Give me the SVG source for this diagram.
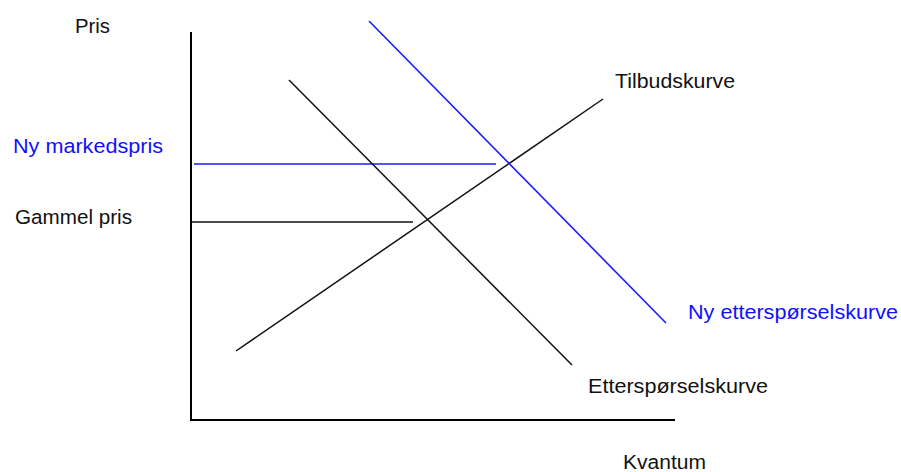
<svg xmlns="http://www.w3.org/2000/svg" width="901" height="472" viewBox="0 0 901 472">
<style>
text{font-family:"Liberation Sans",Arial,sans-serif;font-size:20.5px;fill:#111}
.blue{fill:#1010ff}
.ax{stroke:#000;stroke-width:2;fill:none}
.k{stroke:#111;stroke-width:1.5;fill:none}
.b{stroke:#1a1aff;stroke-width:1.6;fill:none}
</style>
<rect width="901" height="472" fill="#fff"/>
<g id="axes">
<line class="ax" x1="191" y1="32" x2="191" y2="421"/>
<line class="ax" x1="190" y1="420" x2="675" y2="420"/>
</g>
<g id="connectors">
<line class="k" x1="191" y1="222" x2="413" y2="222"/>
<line class="b" x1="194" y1="164" x2="496" y2="164"/>
<line class="k" x1="236" y1="351" x2="603" y2="99"/>
<line class="k" x1="289" y1="80" x2="572" y2="365"/>
<line class="b" x1="369" y1="21" x2="666" y2="323"/>
</g>
<g id="label-pris"><text x="75" y="33" textLength="35" lengthAdjust="spacingAndGlyphs">Pris</text></g>
<g id="label-ny-markedspris"><text class="blue" x="13" y="153" textLength="150" lengthAdjust="spacingAndGlyphs">Ny markedspris</text></g>
<g id="label-gammel-pris"><text x="15" y="224" textLength="117" lengthAdjust="spacingAndGlyphs">Gammel pris</text></g>
<g id="label-tilbud"><text x="615" y="88" textLength="120" lengthAdjust="spacingAndGlyphs">Tilbudskurve</text></g>
<g id="label-ny-ettersporsel"><text class="blue" x="688" y="319" textLength="210" lengthAdjust="spacingAndGlyphs">Ny etterspørselskurve</text></g>
<g id="label-ettersporsel"><text x="588" y="393" textLength="180" lengthAdjust="spacingAndGlyphs">Etterspørselskurve</text></g>
<g id="label-kvantum"><text x="623" y="469" textLength="83" lengthAdjust="spacingAndGlyphs">Kvantum</text></g>
</svg>
